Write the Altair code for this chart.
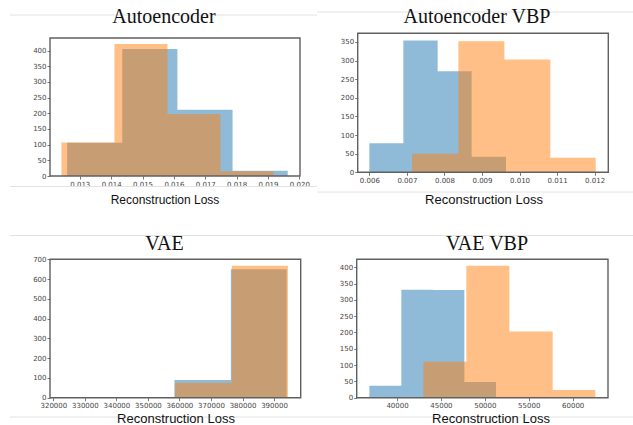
import altair as alt
import pandas as pd

W, H = 633, 425

# ---- Autoencoder ----
ae_blue_edges = [0.012596, 0.014354, 0.016112, 0.017870, 0.019628]
ae_blue_counts = [106, 405, 211, 17]
ae_orange_edges = [0.012415, 0.014105, 0.015795, 0.017485, 0.019175]
ae_orange_counts = [107, 421, 198, 15]
ae_x_domain = [0.01205, 0.02002]
ae_y_domain = [0, 440]
ae_x_ticks = [0.013, 0.014, 0.015, 0.016, 0.017, 0.018, 0.019, 0.020]
ae_y_ticks = [0, 50, 100, 150, 200, 250, 300, 350, 400]

# ---- Autoencoder VBP ----
aevbp_blue_edges = [0.006000, 0.006905, 0.007819, 0.008724, 0.009638]
aevbp_blue_counts = [78, 354, 271, 42]
aevbp_orange_edges = [0.007137, 0.008371, 0.009596, 0.010820, 0.012027]
aevbp_orange_counts = [50, 352, 303, 39]
aevbp_x_domain = [0.005689, 0.012364]
aevbp_y_domain = [0, 373]
aevbp_x_ticks = [0.006, 0.007, 0.008, 0.009, 0.010, 0.011, 0.012]
aevbp_y_ticks = [0, 50, 100, 150, 200, 250, 300, 350]

# ---- VAE ----
vae_blue_edges = [358400, 376300, 394000]
vae_blue_counts = [89, 650]
vae_orange_edges = [358600, 376600, 394400]
vae_orange_counts = [76, 668]
vae_x_domain = [318940, 398460]
vae_y_domain = [0, 700]
vae_x_ticks = [320000, 330000, 340000, 350000, 360000, 370000, 380000, 390000]
vae_y_ticks = [0, 100, 200, 300, 400, 500, 600, 700]

# ---- VAE VBP ----
vaevbp_blue_edges = [36850, 40493, 44060, 47666, 51271]
vaevbp_blue_counts = [37, 331, 330, 48]
vaevbp_orange_edges = [42998, 47894, 52789, 57723, 62581]
vaevbp_orange_counts = [110, 405, 203, 24]
vaevbp_x_domain = [35408, 64023]
vaevbp_y_domain = [0, 424.5]
vaevbp_x_ticks = [40000, 45000, 50000, 55000, 60000]
vaevbp_y_ticks = [0, 50, 100, 150, 200, 250, 300, 350, 400]

BLUE = "#1f77b4"
ORANGE = "#ff7f0e"
FRAME = "#606060"
TICK_FONT = "DejaVu Sans"


def step_table(edges, counts):
    # one row per bin edge; the last edge repeats the final count so the
    # step-after outline closes the last bin
    return pd.DataFrame({"edge": edges, "count": list(counts) + [counts[-1]]})


def panel(blue_edges, blue_counts, orange_edges, orange_counts,
          x_dom, y_dom, x_ticks, y_ticks, x_fmt, box):
    """Layers of one histogram panel; every layer carries the same
    pixel-anchored scales so they line up inside the shared canvas."""
    left, right, top, bottom = box

    def xs():
        return alt.Scale(domain=x_dom, range=[left, right], nice=False, zero=False)

    def ys():
        return alt.Scale(domain=y_dom, range=[bottom, top], nice=False, zero=False)

    common = dict(title=None, domain=False, grid=False, tickSize=3,
                  tickColor="#555555", tickWidth=0.8, labelPadding=1,
                  labelFont=TICK_FONT, labelFontSize=7, labelColor="#444444",
                  labelFlush=False, labelOverlap=False)
    x_axis = alt.Axis(orient="bottom", offset=bottom - H, values=x_ticks,
                      format=x_fmt, **common)
    y_axis = alt.Axis(orient="left", offset=-left, values=y_ticks,
                      format="d", **common)

    def hist(edges, counts, color, with_axes):
        return alt.Chart(step_table(edges, counts)).mark_area(
            interpolate="step-after", color=color, opacity=0.5
        ).encode(
            x=alt.X("edge:Q", scale=xs(), axis=x_axis if with_axes else None),
            y=alt.Y("count:Q", scale=ys(), axis=y_axis if with_axes else None),
            y2=alt.datum(0),
        )

    blue = hist(blue_edges, blue_counts, BLUE, True)
    orange = hist(orange_edges, orange_counts, ORANGE, False)
    frame = alt.Chart(alt.Data(values=[{}])).mark_rect(
        filled=False, stroke=FRAME, strokeWidth=1.4
    ).encode(
        x=alt.X(datum=x_dom[0], scale=xs(), axis=None),
        x2=alt.datum(x_dom[1]),
        y=alt.Y(datum=y_dom[0], scale=ys(), axis=None),
        y2=alt.datum(y_dom[1]),
    )
    return [blue, orange, frame]


p_ae = panel(ae_blue_edges, ae_blue_counts, ae_orange_edges, ae_orange_counts,
             ae_x_domain, ae_y_domain, ae_x_ticks, ae_y_ticks, ".3f",
             (50, 300, 38, 176))
p_aevbp = panel(aevbp_blue_edges, aevbp_blue_counts, aevbp_orange_edges,
                aevbp_orange_counts, aevbp_x_domain, aevbp_y_domain,
                aevbp_x_ticks, aevbp_y_ticks, ".3f", (357.7, 608.3, 33.3, 172.3))
p_vae = panel(vae_blue_edges, vae_blue_counts, vae_orange_edges,
              vae_orange_counts, vae_x_domain, vae_y_domain,
              vae_x_ticks, vae_y_ticks, "d", (50, 300.7, 259.3, 397.7))
p_vaevbp = panel(vaevbp_blue_edges, vaevbp_blue_counts, vaevbp_orange_edges,
                 vaevbp_orange_counts, vaevbp_x_domain, vaevbp_y_domain,
                 vaevbp_x_ticks, vaevbp_y_ticks, "d", (356.7, 608, 259.3, 397.7))

one = alt.Data(values=[{}])


def separator(x0, x1, y):
    return alt.Chart(one).mark_rule(color="#e2e2e2", strokeWidth=1).encode(
        x=alt.value(x0), x2=alt.value(x1), y=alt.value(y)
    )


def label(text, x, y, font, size):
    return alt.Chart(one).mark_text(
        text=text, font=font, fontSize=size, color="#111111",
        align="center", baseline="alphabetic"
    ).encode(x=alt.value(x), y=alt.value(y))


seps = [
    separator(10, 317, 15), separator(317, 633, 12),
    separator(10, 317, 186.5), separator(317, 633, 192),
    separator(10, 633, 235.5), separator(10, 633, 417),
]

texts = [
    label("Autoencoder", 164, 22.5, "Liberation Serif", 20),
    label("Autoencoder VBP", 477, 22.5, "Liberation Serif", 20),
    label("VAE", 164.5, 250, "Liberation Serif", 20),
    label("VAE VBP", 487, 250, "Liberation Serif", 20),
    label("Reconstruction Loss", 165, 204, "Liberation Sans", 12),
    label("Reconstruction Loss", 484, 204, "Liberation Sans", 13),
    label("Reconstruction Loss", 176, 423, "Liberation Sans", 13),
    label("Reconstruction Loss", 491, 423, "Liberation Sans", 13),
]

chart = alt.layer(
    *seps, *p_ae, *p_aevbp, *p_vae, *p_vaevbp, *texts
).resolve_scale(
    x="independent", y="independent"
).resolve_axis(
    x="independent", y="independent"
).properties(
    width=W, height=H,
    autosize=alt.AutoSizeParams(type="none"),
    padding=0,
    background="white",
).configure_view(stroke=None)

chart.save("out.html", embed_options={"renderer": "svg", "actions": False})
